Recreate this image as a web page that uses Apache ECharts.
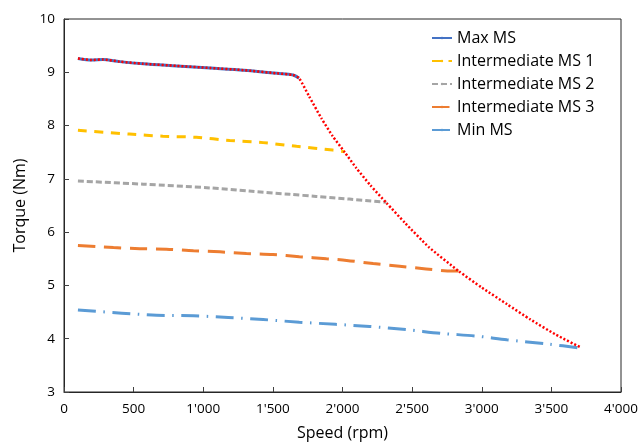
<!DOCTYPE html>
<html>
<head>
<meta charset="utf-8">
<script src="https://cdn.jsdelivr.net/npm/echarts@6/dist/echarts.min.js"></script>
<style>html,body{margin:0;padding:0;background:#fff;}#c{width:641px;height:443px;}</style>
</head>
<body>
<div id="c"></div>
<script>
var seriesNames = ['Max MS', 'Intermediate MS 1', 'Intermediate MS 2', 'Intermediate MS 3', 'Min MS'];
var xTicks = [0, 500, 1000, 1500, 2000, 2500, 3000, 3500, 4000];
var yTicks = [3, 4, 5, 6, 7, 8, 9, 10];

var maxX = [100, 200, 280, 400, 570, 810, 1050, 1290, 1530, 1645, 1688];
var maxY = [9.26, 9.23, 9.24, 9.20, 9.16, 9.12, 9.08, 9.04, 8.98, 8.95, 8.89];

var int1X = [100, 470, 710, 950, 1190, 1430, 1670, 1930, 2016];
var int1Y = [7.91, 7.84, 7.80, 7.78, 7.72, 7.68, 7.61, 7.54, 7.51];

var int2X = [100, 570, 1050, 1330, 1620, 1810, 2050, 2315];
var int2Y = [6.96, 6.90, 6.83, 6.77, 6.71, 6.67, 6.62, 6.56];

var int3X = [100, 355, 545, 735, 930, 1120, 1310, 1500, 1690, 1885, 2030, 2220, 2410, 2600, 2790, 2834];
var int3Y = [5.75, 5.71, 5.69, 5.68, 5.65, 5.63, 5.60, 5.58, 5.54, 5.50, 5.47, 5.41, 5.36, 5.31, 5.27, 5.27];

var minX = [100, 415, 665, 930, 1180, 1430, 1690, 1950, 2195, 2460, 2710, 2960, 3180, 3475, 3690, 3715];
var minY = [4.54, 4.48, 4.44, 4.43, 4.40, 4.36, 4.31, 4.27, 4.23, 4.17, 4.10, 4.05, 3.98, 3.90, 3.83, 3.82];

var limX = [1688, 1760, 1850, 1930, 2016, 2100, 2200, 2315, 2450, 2620, 2834, 3000, 3180, 3350, 3530, 3715];
var limY = [8.89, 8.55, 8.13, 7.80, 7.50, 7.20, 6.88, 6.55, 6.17, 5.72, 5.27, 4.96, 4.65, 4.36, 4.08, 3.83];

function pairs(xs, ys) { return xs.map(function (x, i) { return [x, ys[i]]; }); }
function fmtK(v) {
  var s = String(Math.round(v));
  return s.replace(/\B(?=(\d{3})+(?!\d))/g, "'");
}

var FONT = 'Open Sans';
var chart = echarts.init(document.getElementById('c'), null, { renderer: 'canvas' });
var colors = ['#4472C4', '#FFC000', '#A5A5A5', '#ED7D31', '#5B9BD5'];
var dashes = ['solid', [9, 7.5], [6, 3], [17.5, 8.5], [18, 7.5, 1.5, 7.5]];
var datasets = [pairs(maxX, maxY), pairs(int1X, int1Y), pairs(int2X, int2Y), pairs(int3X, int3Y), pairs(minX, minY)];

var series = seriesNames.map(function (n, i) {
  return {
    name: n, type: 'line', data: datasets[i], showSymbol: false, symbol: 'none', smooth: 0.3,
    lineStyle: { color: colors[i], width: 3, type: dashes[i] },
    itemStyle: { color: colors[i] }, z: 2
  };
});
series.push({
  name: 'limit', type: 'line', symbol: 'none', smooth: 0.2,
  data: pairs(maxX.slice(0, -1).concat(limX), maxY.slice(0, -1).concat(limY)),
  lineStyle: { color: '#FF0000', width: 2.5, type: [2, 2] }, z: 5
});

chart.setOption({
  animation: false,
  textStyle: { fontFamily: FONT },
  grid: { left: 64, right: 20, top: 19, bottom: 51, show: true, borderColor: '#262626', borderWidth: 1, outerBoundsMode: 'none', containLabel: false },
  legend: {
    data: seriesNames, orient: 'vertical', left: 426, top: 25,
    itemWidth: 20, itemHeight: 3, itemGap: 7,
    textStyle: { fontFamily: FONT, fontSize: 16, color: '#000' }
  },
  xAxis: {
    type: 'value', min: 0, max: 4000, interval: 500,
    name: 'Speed (rpm)', nameLocation: 'middle', nameGap: 33,
    nameTextStyle: { fontFamily: FONT, fontSize: 16, color: '#000' },
    axisLine: { show: true, lineStyle: { color: '#262626' } },
    axisTick: { show: true, inside: true, length: 5, lineStyle: { color: '#404040' } },
    axisLabel: { formatter: fmtK, fontSize: 13.5, color: '#000', margin: 10 },
    splitLine: { show: false }
  },
  yAxis: {
    type: 'value', min: 3, max: 10, interval: 1,
    name: 'Torque (Nm)', nameLocation: 'middle', nameGap: 31, nameRotate: 90,
    nameTextStyle: { fontFamily: FONT, fontSize: 16, color: '#000' },
    axisLine: { show: true, lineStyle: { color: '#262626' } },
    axisTick: { show: true, inside: true, length: 5, lineStyle: { color: '#404040' } },
    axisLabel: { fontSize: 13.5, color: '#000', margin: 9 },
    splitLine: { show: false }
  },
  series: series
});
</script>
</body>
</html>
